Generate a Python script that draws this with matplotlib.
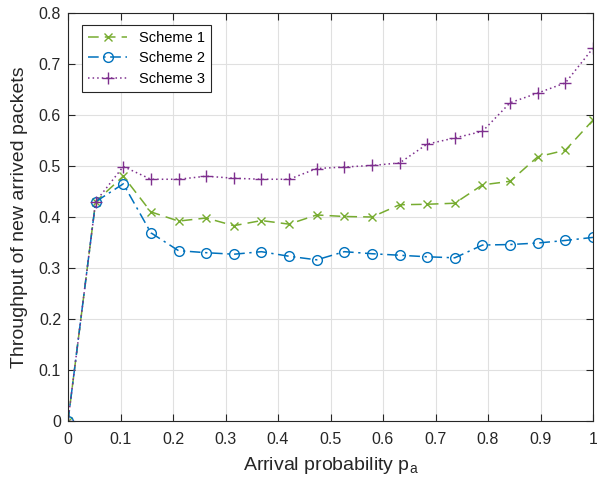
import matplotlib
matplotlib.use("Agg")
from matplotlib import pyplot as plt

plt.rcParams['font.family'] = ['Liberation Sans', 'DejaVu Sans']

# Dados
p_a = [0, 0.0526, 0.1053, 0.1579, 0.2105, 0.2632, 0.3158, 0.3684, 0.4211, 0.4737,
       0.5263, 0.5789, 0.6316, 0.6842, 0.7368, 0.7895, 0.8421, 0.8947, 0.9474, 1.0]
scheme1 = [0, 0.430, 0.480, 0.410, 0.392, 0.398, 0.383, 0.393, 0.386, 0.404,
           0.401, 0.400, 0.424, 0.425, 0.427, 0.463, 0.470, 0.518, 0.531, 0.590]
scheme2 = [0, 0.430, 0.465, 0.369, 0.334, 0.330, 0.327, 0.332, 0.323, 0.316,
           0.332, 0.328, 0.325, 0.322, 0.320, 0.345, 0.346, 0.349, 0.354, 0.360]
scheme3 = [0, 0.430, 0.499, 0.474, 0.474, 0.480, 0.476, 0.474, 0.474, 0.495,
           0.498, 0.501, 0.506, 0.543, 0.555, 0.568, 0.624, 0.643, 0.663, 0.731]

fig = plt.figure(figsize=(5.97, 4.82), dpi=100)
ax = fig.add_axes([68/597, 1 - 421/482, 525/597, 408/482])

ax.plot(p_a, scheme1, color='#77AC30', linestyle=(0, (7, 4)), marker='x',
        markersize=6, linewidth=1.1, label='Scheme 1')
ax.plot(p_a, scheme2, color='#0072BD', linestyle=(0, (7, 3, 1.5, 3)), marker='o',
        markersize=7, markerfacecolor='none', linewidth=1.1, label='Scheme 2')
ax.plot(p_a, scheme3, color='#7E2F8E', linestyle=(0, (1, 2)), marker='+',
        markersize=8, linewidth=1.1, label='Scheme 3')

ax.set_xlim(0, 1)
ax.set_ylim(0, 0.8)
ax.set_xticks([0, 0.1, 0.2, 0.3, 0.4, 0.5, 0.6, 0.7, 0.8, 0.9, 1])
ax.set_xticklabels(['0', '0.1', '0.2', '0.3', '0.4', '0.5', '0.6', '0.7', '0.8', '0.9', '1'])
ax.set_yticks([0, 0.1, 0.2, 0.3, 0.4, 0.5, 0.6, 0.7, 0.8])
ax.set_yticklabels(['0', '0.1', '0.2', '0.3', '0.4', '0.5', '0.6', '0.7', '0.8'])
ax.grid(True, color='#e0e0e0', linewidth=0.8)
ax.set_axisbelow(True)
ax.tick_params(direction='in', top=True, right=True, labelsize=11.5, colors='#262626',
               length=5, pad=5)
ax.tick_params(axis='x', pad=8)
for s in ax.spines.values():
    s.set_color('#262626')
    s.set_linewidth(0.8)

ax.set_xlabel('Arrival probability p$_\\mathregular{a}$', fontsize=14, color='#262626',
              labelpad=6)
ax.set_ylabel('Throughput of new arrived packets', fontsize=14, color='#262626',
              labelpad=8)

leg = ax.legend(loc='upper left', fontsize=10.5, fancybox=False, framealpha=1,
                edgecolor='#262626', handlelength=2.7, borderpad=0.4,
                labelspacing=0.45, borderaxespad=0, bbox_to_anchor=(14/525, 396/408))
leg.get_frame().set_linewidth(0.8)

plt.savefig('out.png', dpi=100)
